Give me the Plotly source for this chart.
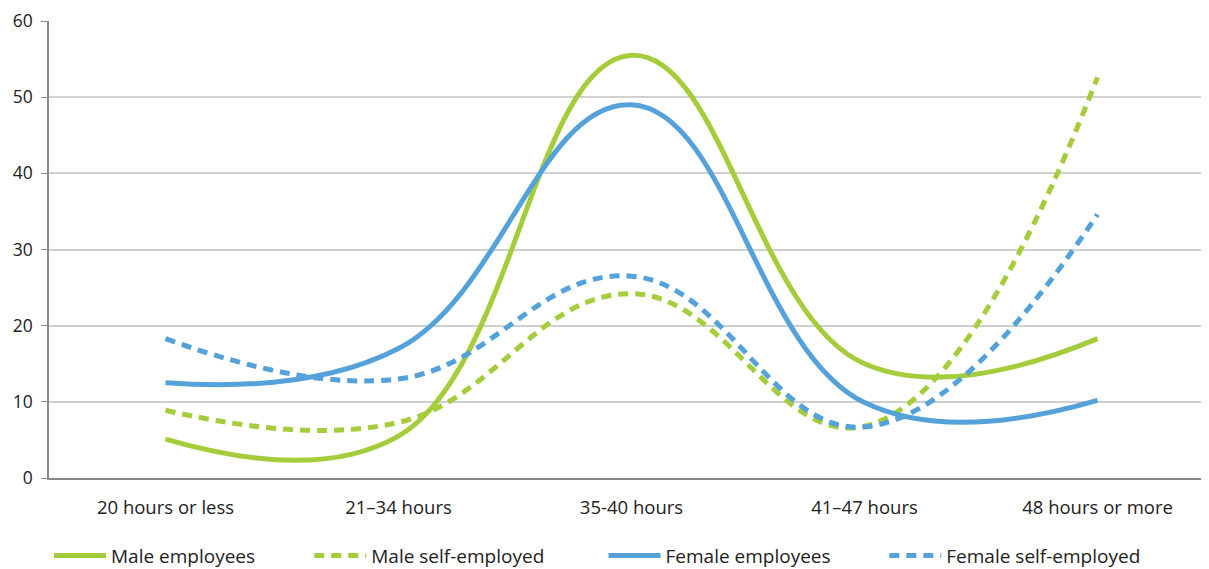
import plotly.graph_objects as go

categories = ['20 hours or less', '21–34 hours', '35-40 hours', '41–47 hours', '48 hours or more']

male_employees = [5.1, 5.5, 55.5, 15.0, 18.3]
male_self_employed = [8.9, 7.3, 24.2, 6.8, 52.6]
female_employees = [12.5, 17.0, 49.0, 9.9, 10.2]
female_self_employed = [18.3, 13.0, 26.5, 6.7, 34.6]

green = '#a5cc3a'
blue = '#55a2da'

fig = go.Figure()

series = [
    ('Male employees', male_employees, green, 'solid', 'legend', 0.0),
    ('Male self-employed', male_self_employed, green, '10px,7px', 'legend2', 0.2234),
    ('Female employees', female_employees, blue, 'solid', 'legend3', 0.476),
    ('Female self-employed', female_self_employed, blue, '10px,7px', 'legend4', 0.717),
]

legends = {}
for name, vals, col, dash, lg, lx in series:
    fig.add_trace(go.Scatter(
        x=categories, y=vals, name=name, mode='lines', legend=lg,
        line=dict(color=col, width=5, dash=dash, shape='spline', smoothing=1.2),
    ))
    legends[lg] = dict(orientation='h', x=lx, xanchor='left', y=-0.17, yanchor='middle',
                       font=dict(size=19), itemwidth=52, bgcolor='rgba(0,0,0,0)')

# the page shows the figure about 8px down and right, so margins are shifted
fig.update_layout(
    width=1209, height=569,
    margin=dict(l=41, r=3, t=13, b=99, autoexpand=False),
    plot_bgcolor='white', paper_bgcolor='white',
    font=dict(family='Open Sans', size=18.5, color='#222222'),
    showlegend=True,
    **legends,
)
fig.update_xaxes(type='category', range=[-0.5, 4.5], showgrid=False, automargin=False,
                 showline=True, linecolor='#888888', linewidth=1.5,
                 ticks='', ticklabelstandoff=12)
fig.update_yaxes(range=[0, 60], dtick=10, showgrid=True, gridcolor='#d0d0d0', gridwidth=1.5,
                 showline=True, linecolor='#888888', linewidth=1.5, automargin=False,
                 ticks='outside', ticklen=6, tickcolor='#888888', zeroline=False,
                 ticklabelstandoff=5, tickfont=dict(size=17.5))

fig.write_html("out.html")
